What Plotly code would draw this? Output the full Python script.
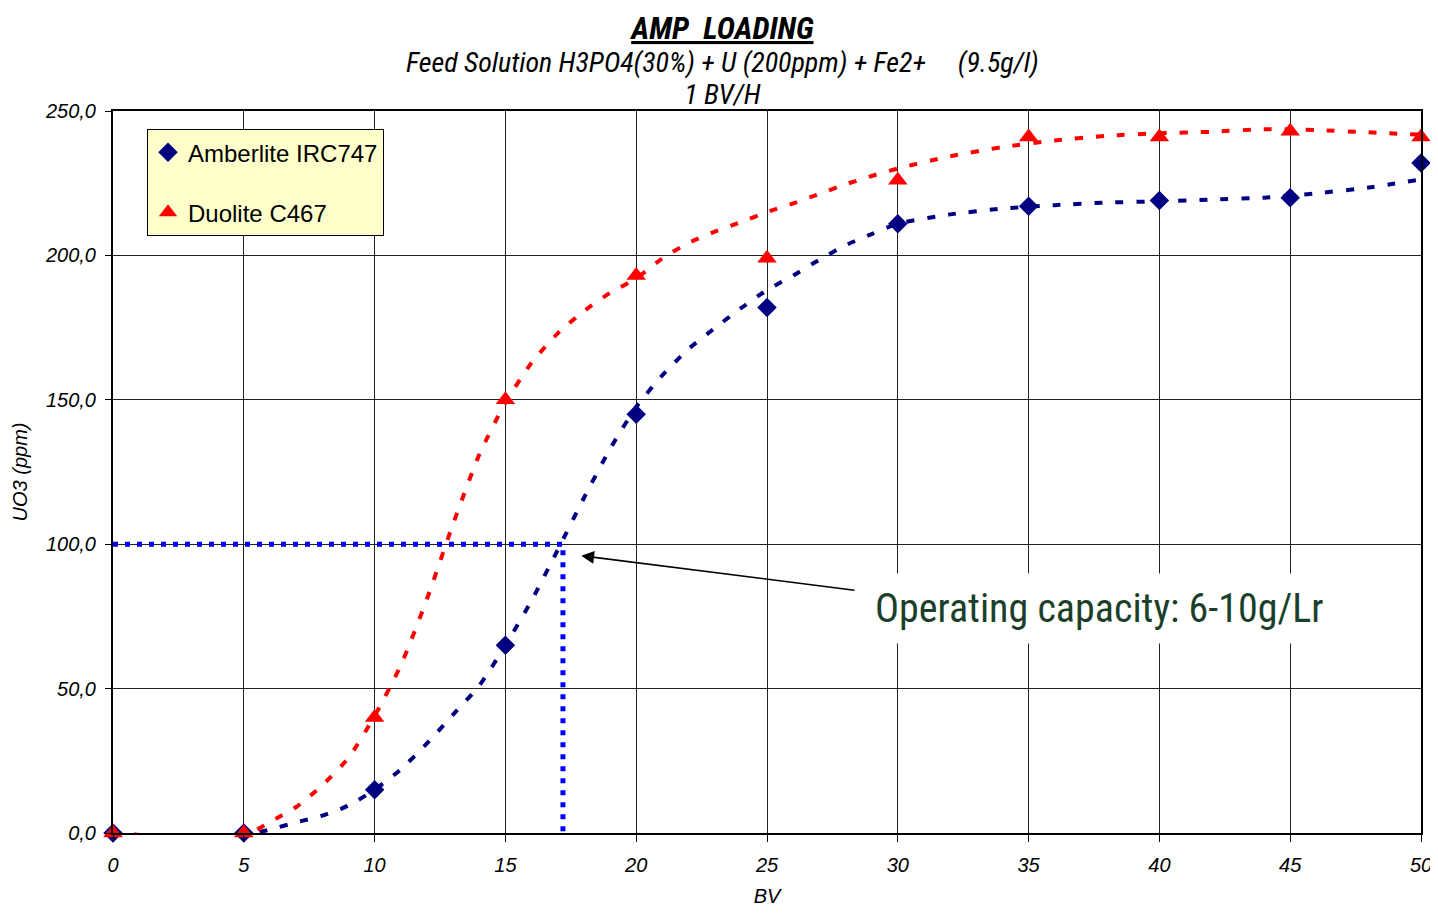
import plotly.graph_objects as go

# ---- data (measured points) ----
bv = [0, 5, 10, 15, 20, 25, 30, 35, 40, 45, 50]
amberlite = [0, 0, 15, 65, 145, 182, 211, 217, 219, 220, 232]
duolite = [0, 0, 40, 150, 193, 199, 226, 241, 241, 243, 241]
series_names = ["Amberlite IRC747", "Duolite C467"]

# ---- trendlines ----
trend_bv = [0, 1, 2, 3, 4, 5, 6, 7, 8, 9, 10, 11, 12, 13, 14, 15, 16, 17, 18, 19, 20,
            21, 22, 23, 24, 25, 26, 27, 28, 29, 30, 32, 34, 36, 38, 40, 42, 44, 46, 48, 50]
amberlite_trend = [0, -0.7, -1.3, -1.4, -1.3, -0.8, 1.2, 3.7, 6, 9.5, 15, 22, 31, 41, 51, 65,
                   80.5, 98, 116, 133, 147.5, 158.5, 167.6, 174.8, 181.7, 188, 193, 198.5, 203.5,
                   207.4, 211, 214.2, 216.2, 217.4, 218.3, 218.7, 219.3, 220, 221.5, 223.5, 226.3]
duolite_trend = [0, -0.7, -2.4, -2.8, -2.6, -1.2, 3.8, 9, 16.5, 26, 40.5, 58, 81, 107, 131, 149,
                 162.8, 173, 180.7, 187, 192, 199, 204.3, 208.2, 211.5, 215, 218, 221.3, 224.6,
                 227.5, 230.1, 234.3, 237.5, 239.8, 241.4, 242.3, 242.8, 243.7, 243.4, 242.6, 241.8]

title_lines = ["AMP  LOADING",
               "Feed Solution H3PO4(30%) + U (200ppm) + Fe2+     (9.5g/l)",
               "1 BV/H"]

ref_level = 100.0     # ppm breakthrough level
ref_bv = 17.2         # BV at breakthrough
arrow_tail = (28.4, 84.0)
arrow_head = (17.9, 96.0)

NARROW = "Liberation Sans Narrow, Arial Narrow, Roboto Condensed, Liberation Sans, Arial, sans-serif"
ARIAL = "Liberation Sans, Arial, sans-serif"

fig = go.Figure()

fig.add_trace(go.Scatter(x=trend_bv, y=amberlite_trend, mode="lines", line_shape="spline",
                         line=dict(color="#000080", width=4, dash="8px,13px", smoothing=0.6),
                         showlegend=False, hoverinfo="skip", cliponaxis=False))
fig.add_trace(go.Scatter(x=trend_bv, y=duolite_trend, mode="lines", line_shape="spline",
                         line=dict(color="#FF0000", width=4, dash="8px,13px", smoothing=0.6),
                         showlegend=False, hoverinfo="skip", cliponaxis=False))

# reference dotted lines
fig.add_trace(go.Scatter(x=[0, ref_bv, ref_bv], y=[ref_level, ref_level, 0], mode="lines",
                         line=dict(color="#0000FF", width=5, dash="5px,7px"),
                         showlegend=False, hoverinfo="skip", cliponaxis=False))

fig.add_trace(go.Scatter(x=bv, y=amberlite, mode="markers", name=series_names[0],
                         legendgroup="a",
                         marker=dict(symbol="diamond", size=15, color="#000080"),
                         cliponaxis=False))
fig.add_trace(go.Scatter(x=bv, y=duolite, mode="markers", name=series_names[1],
                         legendgroup="b",
                         marker=dict(symbol="triangle-up", size=17, color="#FF0000"),
                         cliponaxis=False))

fig.update_layout(
    width=1430, height=899,
    margin=dict(l=105, r=17, t=103, b=74, autoexpand=False),
    paper_bgcolor="white", plot_bgcolor="white",
    separators=", ",
    font=dict(family=ARIAL, color="black"),
    legend=dict(x=0.026, y=0.975, xanchor="left", yanchor="top",
                bgcolor="#FFFFCC", bordercolor="black", borderwidth=1,
                font=dict(family=ARIAL, size=24, color="black"),
                traceorder="grouped", tracegroupgap=26),
    xaxis=dict(range=[0, 50], tickmode="array", tickvals=list(range(0, 51, 5)),
               showgrid=True, gridcolor="#222", gridwidth=1,
               showline=True, linecolor="black", linewidth=2, mirror=True,
               ticks="outside", ticklen=7, tickcolor="black",
               ticklabelstandoff=6, ticklabeloverflow="allow", automargin=False,
               tickfont=dict(family=ARIAL, size=20, style="italic"),
               zeroline=False,
               title=dict(text="BV", font=dict(family=ARIAL, size=20, style="italic"), standoff=16)),
    yaxis=dict(range=[0, 250], tickmode="array", tickvals=[0, 50, 100, 150, 200, 250],
               tickformat=".1f",
               showgrid=True, gridcolor="#222", gridwidth=1,
               showline=True, linecolor="black", linewidth=2, mirror=True,
               ticks="outside", ticklen=6, tickcolor="black",
               ticklabelstandoff=5, ticklabeloverflow="allow", automargin=False,
               tickfont=dict(family=ARIAL, size=20, style="italic"),
               zeroline=False,
               title=dict(text="UO3 (ppm)", font=dict(family=ARIAL, size=20, style="italic"), standoff=12)),
)

title_text = (f"<span style='font-size:31px'><b><i><u>{title_lines[0]}</u></i></b></span>"
              f"<br><span style='font-size:28px'><i>{title_lines[1]}</i></span>"
              f"<br><span style='font-size:28px'><i>{title_lines[2]}</i></span>")

annotations = [
    dict(text=title_text, x=0.4656, y=1.143, xref="paper", yref="paper",
         showarrow=False, xanchor="center", yanchor="top", align="center",
         font=dict(family=NARROW, size=25, color="black")),
    dict(text="Operating capacity: 6-10g/Lr", x=0.7542, y=(833 - 608) / 722,
         xref="paper", yref="paper", showarrow=False, xanchor="center", yanchor="middle",
         bgcolor="white", borderpad=11,
         font=dict(family=NARROW, size=40, color="#1B4029")),
    dict(text="", x=arrow_head[0], y=arrow_head[1], ax=arrow_tail[0], ay=arrow_tail[1],
         xref="x", yref="y", axref="x", ayref="y", showarrow=True,
         arrowhead=2, arrowsize=1.6, arrowwidth=1.6, arrowcolor="black"),
]
fig.update_layout(annotations=annotations)

fig.write_html("out.html")
